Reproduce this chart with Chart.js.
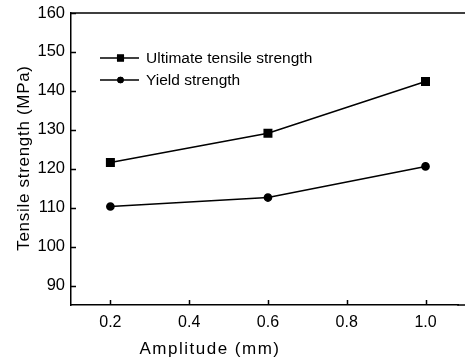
<!DOCTYPE html>
<html>
<head>
    <title>Tensile strength vs amplitude</title>
    <script src="https://cdn.jsdelivr.net/npm/chart.js@4.4.0/dist/chart.umd.min.js"></script>
    <style>
        body { margin: 0; background: #fff; }
        #chart { display: block; }
    </style>
</head>
<body>
    <canvas id="chart" width="465" height="361"></canvas>
    <script>
        // values
        const amplitudes = [0.2, 0.6, 1.0];
        const ultimateStrength = [121.6, 129.1, 142.4];
        const yieldStrength = [110.3, 112.6, 120.6];
        const xTicks = [0.2, 0.4, 0.6, 0.8, 1.0];
        const yTicks = [90, 100, 110, 120, 130, 140, 150, 160];
        const seriesNames = ['Ultimate tensile strength', 'Yield strength'];
        const xTitle = 'Amplitude (mm)';
        const yTitle = 'Tensile strength (MPa)';

        const FONT = "'Liberation Sans', Arial, sans-serif";

        // inward ticks, frame lines running off the right edge, spaced axis titles and the legend
        const frame = {
            id: 'frame',
            afterDraw(chart) {
                const ctx = chart.ctx;
                const a = chart.chartArea;
                const xs = chart.scales.x, ys = chart.scales.y;
                ctx.save();
                ctx.strokeStyle = '#000';
                ctx.fillStyle = '#000';
                ctx.lineWidth = 1.5;
                ctx.beginPath();
                ctx.moveTo(a.left, a.top);
                ctx.lineTo(chart.width, a.top);
                ctx.moveTo(a.right - 1, a.bottom);
                ctx.lineTo(chart.width, a.bottom);
                xTicks.forEach(v => {
                    const px = Math.round(xs.getPixelForValue(v)) + 0.5;
                    ctx.moveTo(px, a.bottom);
                    ctx.lineTo(px, a.bottom - 5);
                });
                yTicks.forEach(v => {
                    const py = Math.round(ys.getPixelForValue(v)) + 0.5;
                    ctx.moveTo(a.left, py);
                    ctx.lineTo(a.left + 5, py);
                });
                ctx.stroke();

                // axis titles (letter-spaced like the original)
                ctx.textAlign = 'center';
                ctx.textBaseline = 'middle';
                ctx.font = '17px ' + FONT;
                ctx.letterSpacing = '1.5px';
                ctx.fillText(xTitle, 210, 349);
                ctx.save();
                ctx.translate(24, 158);
                ctx.rotate(-Math.PI / 2);
                ctx.letterSpacing = '0.7px';
                ctx.fillText(yTitle, 0, 0);
                ctx.restore();
                ctx.letterSpacing = '0px';

                // legend
                const rows = [58, 80];
                ctx.textAlign = 'left';
                chart.data.datasets.forEach((ds, i) => {
                    const y = rows[i];
                    ctx.lineWidth = 1.5;
                    ctx.beginPath();
                    ctx.moveTo(100, y);
                    ctx.lineTo(139, y);
                    ctx.stroke();
                    Chart.helpers.drawPoint(ctx, {
                        pointStyle: ds.pointStyle,
                        radius: ds.pointStyle === 'rect' ? 5 : 3.2,
                        rotation: 0
                    }, 120.5, y);
                    ctx.fill();
                    ctx.font = '15.5px ' + FONT;
                    ctx.fillText(ds.label, 146, y + 1);
                });
                ctx.restore();
            }
        };

        new Chart(document.getElementById('chart'), {
            type: 'line',
            data: {
                datasets: [{
                    label: seriesNames[0],
                    data: amplitudes.map((a, i) => ({ x: a, y: ultimateStrength[i] })),
                    borderColor: '#000',
                    backgroundColor: '#000',
                    borderWidth: 1.5,
                    pointStyle: 'rect',
                    pointRadius: 5.3,
                    tension: 0
                }, {
                    label: seriesNames[1],
                    data: amplitudes.map((a, i) => ({ x: a, y: yieldStrength[i] })),
                    borderColor: '#000',
                    backgroundColor: '#000',
                    borderWidth: 1.5,
                    pointStyle: 'circle',
                    pointRadius: 3.6,
                    tension: 0
                }]
            },
            options: {
                responsive: false,
                animation: false,
                layout: { padding: { top: 13, right: 0, left: 0, bottom: 0 } },
                plugins: { legend: { display: false }, tooltip: { enabled: false } },
                scales: {
                    x: {
                        type: 'linear',
                        min: 0.1,
                        max: 1.083,
                        afterBuildTicks: s => { s.ticks = xTicks.map(v => ({ value: v })); },
                        afterFit: s => { s.height = 56; s.paddingLeft = 0; s.paddingRight = 0; },
                        grid: { display: false, drawTicks: false },
                        border: { color: '#000', width: 1.5 },
                        ticks: {
                            color: '#000',
                            padding: 8,
                            font: { family: FONT, size: 16 },
                            maxRotation: 0,
                            callback: v => v.toFixed(1)
                        }
                    },
                    y: {
                        min: 85,
                        max: 160,
                        afterBuildTicks: s => { s.ticks = yTicks.map(v => ({ value: v })); },
                        afterFit: s => { s.width = 71; s.paddingTop = 0; s.paddingBottom = 0; },
                        grid: { display: false, drawTicks: false },
                        border: { color: '#000', width: 1.5 },
                        ticks: {
                            color: '#000',
                            padding: 6,
                            font: { family: FONT, size: 16.5 }
                        }
                    }
                }
            },
            plugins: [frame]
        });
    </script>
</body>
</html>
